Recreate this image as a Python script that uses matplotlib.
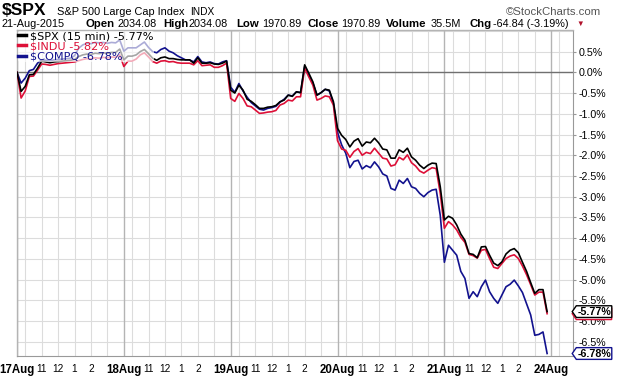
import numpy as np
import matplotlib.pyplot as plt
import matplotlib.transforms as mtransforms
from matplotlib.path import Path
from matplotlib.lines import Line2D

plt.rcParams['font.family'] = ['Liberation Sans', 'DejaVu Sans']

days = ["17Aug", "18Aug", "19Aug", "20Aug", "21Aug", "24Aug"]
hour_labels = ["11", "12", "1", "2"]
bars_per_day = 26

# % change, 15 min bars, 17Aug 9:30 .. 21Aug 15:45
spx = [0.00, -0.46, -0.34, -0.06, -0.05, 0.10, 0.27, 0.25, 0.23, 0.25, 0.26, 0.27, 0.28,
       0.29, 0.31, 0.38, 0.42, 0.44, 0.43, 0.46, 0.45, 0.47, 0.46, 0.48, 0.48, 0.56,
       0.30, 0.39, 0.39, 0.42, 0.50, 0.55, 0.45, 0.34, 0.29, 0.35, 0.37, 0.33, 0.33,
       0.31, 0.30, 0.30, 0.30, 0.22, 0.35, 0.22, 0.22, 0.23, 0.20, 0.19, 0.22, 0.27,
       -0.43, -0.50, -0.31, -0.43, -0.65, -0.70, -0.78, -0.87, -0.87, -0.84, -0.83, -0.80, -0.71,
       -0.67, -0.55, -0.58, -0.47, -0.49, 0.18, -0.02, -0.23, -0.55, -0.49, -0.41, -0.43, -0.71,
       -1.35, -1.52, -1.62, -1.80, -1.66, -1.60, -1.78, -1.68, -1.70, -1.59, -1.70, -1.85, -1.87,
       -2.07, -2.07, -1.87, -1.93, -1.83, -2.04, -2.12, -2.24, -2.32, -2.24, -2.19, -2.20, -2.76,
       -3.56, -3.47, -3.52, -3.68, -3.90, -4.05, -4.37, -4.39, -4.47, -4.21, -4.20, -4.41, -4.60,
       -4.66, -4.57, -4.38, -4.29, -4.25, -4.35, -4.58, -4.80, -5.07, -5.33, -5.24, -5.24, -5.77]
indu = [0.00, -0.62, -0.45, -0.10, -0.09, 0.05, 0.20, 0.19, 0.17, 0.19, 0.21, 0.22, 0.23,
        0.24, 0.25, 0.28, 0.31, 0.33, 0.32, 0.35, 0.34, 0.36, 0.35, 0.37, 0.36, 0.42,
        0.14, 0.27, 0.27, 0.32, 0.42, 0.47, 0.37, 0.26, 0.22, 0.27, 0.28, 0.25, 0.26,
        0.23, 0.22, 0.22, 0.22, 0.18, 0.28, 0.16, 0.17, 0.18, 0.12, 0.12, 0.16, 0.22,
        -0.63, -0.70, -0.51, -0.63, -0.81, -0.83, -0.91, -0.99, -0.98, -0.96, -0.95, -0.92, -0.79,
        -0.75, -0.67, -0.69, -0.59, -0.59, 0.10, -0.11, -0.31, -0.67, -0.63, -0.57, -0.59, -0.79,
        -1.65, -1.85, -1.88, -2.05, -1.91, -1.84, -2.00, -1.93, -1.96, -1.83, -1.95, -2.07, -2.09,
        -2.26, -2.23, -2.05, -2.11, -1.99, -2.18, -2.26, -2.38, -2.43, -2.36, -2.30, -2.32, -2.92,
        -3.76, -3.60, -3.68, -3.80, -3.98, -4.10, -4.39, -4.42, -4.48, -4.29, -4.27, -4.49, -4.70,
        -4.73, -4.61, -4.49, -4.43, -4.40, -4.49, -4.67, -4.88, -5.12, -5.37, -5.30, -5.30, -5.82]
compq = [0.00, -0.26, -0.14, 0.04, 0.07, 0.22, 0.30, 0.29, 0.28, 0.30, 0.31, 0.32, 0.33,
         0.34, 0.40, 0.58, 0.66, 0.70, 0.69, 0.72, 0.71, 0.72, 0.70, 0.72, 0.71, 0.78,
         0.51, 0.59, 0.59, 0.59, 0.66, 0.73, 0.60, 0.50, 0.47, 0.55, 0.59, 0.51, 0.47,
         0.40, 0.35, 0.30, 0.30, 0.25, 0.38, 0.25, 0.23, 0.25, 0.21, 0.20, 0.25, 0.28,
         -0.36, -0.48, -0.27, -0.45, -0.60, -0.73, -0.81, -0.89, -0.91, -0.87, -0.85, -0.82, -0.72,
         -0.65, -0.55, -0.57, -0.47, -0.49, 0.14, -0.06, -0.26, -0.55, -0.49, -0.41, -0.45, -0.75,
         -1.45, -1.75, -1.95, -2.30, -2.15, -2.12, -2.33, -2.25, -2.30, -2.16, -2.28, -2.45, -2.50,
         -2.80, -2.84, -2.60, -2.68, -2.56, -2.76, -2.80, -2.92, -3.00, -2.90, -2.84, -2.82, -3.45,
         -4.58, -4.17, -4.29, -4.41, -4.80, -4.97, -5.45, -5.29, -5.41, -5.17, -5.01, -5.29, -5.45,
         -5.57, -5.37, -5.17, -5.11, -5.01, -5.15, -5.31, -5.58, -5.85, -6.34, -6.32, -6.26, -6.78]

BLACK = '#000000'
RED = '#dd1038'
BLUE = '#12128e'


def tag_box(x0, y0, width, height, mutation_size):
    # box with small pointed left side, like the last-value tags
    pad = mutation_size * 0.08
    x0, y0 = x0 - pad, y0 - pad
    x1, y1 = x0 + width + 2 * pad, y0 + height + 2 * pad
    tip = (y1 - y0) * 0.35
    return Path([(x0, y0), (x1, y0), (x1, y1), (x0, y1),
                 (x0 - tip, (y0 + y1) / 2), (x0, y0)], closed=True)


fig = plt.figure(figsize=(6.2, 3.76), dpi=100)
ax = fig.add_axes([17 / 620, 20 / 376, 556 / 620, 326 / 376])

x = np.arange(len(spx))
ax.plot(x, compq, color=BLUE, lw=1.2, zorder=3)
ax.plot(x, indu, color=RED, lw=1.2, zorder=3.1)
ax.plot(x, spx, color=BLACK, lw=1.2, zorder=3.2)

ax.set_xlim(0, 135.3)
ax.set_ylim(-6.84, 1.02)

# grid
yt = np.arange(-6.5, 0.51, 0.5)
for v in np.arange(-6.5, 1.01, 0.5):
    ax.axhline(v, color='#dcdcdc', lw=0.8, zorder=1)
ax.axhline(0, color='#707070', lw=1.0, zorder=2)
for d in range(len(days)):
    for h in [2, 6, 10, 14, 18, 22]:
        ax.axvline(d * bars_per_day + h, color='#dcdcdc', lw=0.8, zorder=1)
    ax.axvline(d * bars_per_day, color='#b4b4b4', lw=1.0, zorder=1.5)

# y axis on the right
ax.yaxis.tick_right()
ax.set_yticks(yt)
ax.set_yticklabels([f"{v:.1f}%" for v in yt])
ax.tick_params(axis='y', labelsize=7.7, pad=2, length=2, color='#999999')

# x axis labels
pos, labs = [], []
for d, name in enumerate(days):
    pos.append(d * bars_per_day)
    labs.append(name)
    if d < len(days) - 1:
        for k, hl in enumerate(hour_labels):
            pos.append(d * bars_per_day + 6 + 4 * k)
            labs.append(hl)
ax.set_xticks(pos)
ax.set_xticklabels(labs)
ax.tick_params(axis='x', length=0, pad=6, labelsize=7.2)
for t in ax.get_xticklabels():
    if t.get_text() in days:
        t.set_fontweight('bold')
        t.set_fontsize(8.3)

for side in ['top', 'left']:
    ax.spines[side].set_color('#b4b4b4')
    ax.spines[side].set_linewidth(1.0)
for side in ['right', 'bottom']:
    ax.spines[side].set_color('#999999')
    ax.spines[side].set_linestyle((0, (1, 1)))
    ax.spines[side].set_linewidth(0.8)

# legend
handles = [Line2D([], [], color=BLACK, lw=2.5),
           Line2D([], [], color=RED, lw=2.5),
           Line2D([], [], color=BLUE, lw=2.5)]
labels = [f"$SPX (15 min) {spx[-1]:.2f}%", f"$INDU {indu[-1]:.2f}%", f"$COMPQ {compq[-1]:.2f}%"]
leg = ax.legend(handles, labels, loc='upper left', bbox_to_anchor=(0.0, 1.0),
                frameon=True, framealpha=0.65, facecolor='white', edgecolor='none',
                handlelength=0.7, handletextpad=0.4, labelspacing=0.02,
                borderpad=0.0, borderaxespad=0.1,
                prop={'family': 'DejaVu Sans', 'size': 8.1}, labelcolor='linecolor')
leg.set_zorder(5)

# last value tags
trans = mtransforms.blended_transform_factory(ax.transAxes, ax.transData)
for val, col in [(indu[-1], RED), (spx[-1], BLACK), (compq[-1], BLUE)]:
    ax.text(1.0075, val, f"{val:.2f}%", transform=trans, ha='left', va='center',
            fontsize=7.7, fontweight='bold', color='black', clip_on=False, zorder=6,
            bbox=dict(boxstyle=tag_box, fc='white', ec=col, lw=1.0))

# header
fig.text(2 / 620, 1 - 10.5 / 376, "$SPX", fontsize=12.5, fontweight='bold', va='center')
fig.text(57 / 620, 1 - 12 / 376, "S&P 500 Large Cap Index", fontsize=7.9, va='center')
fig.text(190 / 620, 1 - 12 / 376, "INDX", fontsize=7.3, va='center')
fig.text(601 / 620, 1 - 12 / 376, "\u00a9StockCharts.com", fontsize=8.2, va='center',
         ha='right', color='#555555')

row2 = [(2, "21-Aug-2015", 'normal'), (86, "Open", 'bold'), (117, "2034.08", 'normal'),
        (163, "High", 'bold'), (189, "2034.08", 'normal'), (236, "Low", 'bold'),
        (262, "1970.89", 'normal'), (308, "Close", 'bold'), (341, "1970.89", 'normal'),
        (386, "Volume", 'bold'), (431, "35.5M", 'normal'), (469, "Chg", 'bold'),
        (493, "-64.84 (-3.19%)", 'normal')]
for xp, s, w in row2:
    fig.text(xp / 620, 1 - 24 / 376, s, fontsize=8.2 if w == 'bold' else 7.8,
             fontweight=w, va='center')
fig.text(576 / 620, 1 - 24 / 376, "\u25bc", fontsize=5.5, color='#b0102a', va='center')

fig.savefig("out.png", dpi=100)
